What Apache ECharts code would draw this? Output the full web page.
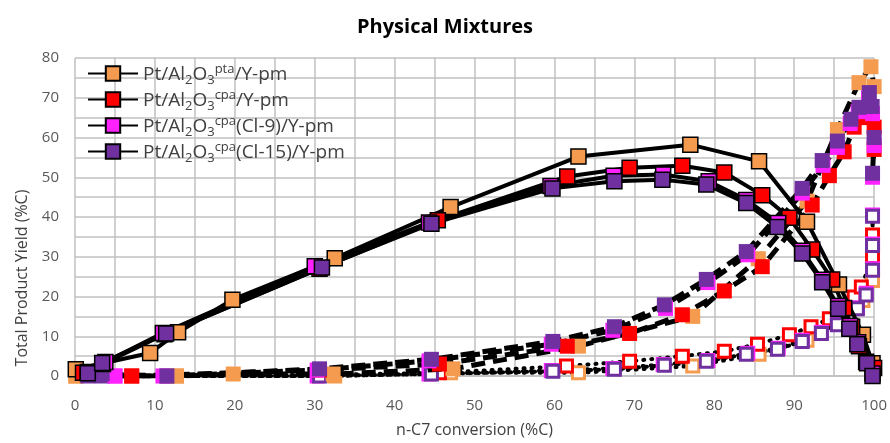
<!DOCTYPE html>
<html>
<head>
<meta charset="utf-8">
<script src="https://cdn.jsdelivr.net/npm/echarts@6/dist/echarts.min.js"></script>
<style>
  html, body { margin: 0; padding: 0; background: #fff; }
  #chart { width: 890px; height: 443px; }
</style>
</head>
<body>
<div id="chart"></div>
<script>
// total product yield (solid lines, filled squares)
const ptaTotal = [[0.1, 1.7], [9.4, 5.8], [12.9, 11], [19.7, 19.2], [32.5, 29.6], [47, 42.5], [63, 55.2], [77, 58.2], [85.6, 54], [91.6, 38.8], [95.6, 23], [98.6, 10.4], [99.8, 3.2]];
const cpaTotal = [[1, 0.8], [3.5, 3], [11.2, 10.5], [30.6, 27], [45.4, 39.2], [61.6, 50.2], [69.4, 52.4], [76, 52.9], [81.25, 51.2], [86, 45.5], [89.4, 39.8], [92.25, 31.8], [94.75, 24.3], [96.25, 17.1], [97.25, 12.4], [98.1, 7.5], [100, 2]];
const cl9Total = [[1.6, 1], [3.8, 3.5], [11, 10.8], [30, 27.6], [44.3, 38.6], [59.5, 47.8], [67.4, 50.4], [73.6, 50.7], [79.3, 49], [84, 44.3], [88, 38.5], [91, 31.5], [93.5, 24.2], [95.5, 17.6], [97, 12.6], [98, 8.5], [99, 3.6], [99.8, 0.6]];
const cl15Total = [[1.6, 0.7], [3.4, 3.3], [11.4, 10.7], [30.9, 27.3], [44.6, 38.3], [59.75, 47.2], [67.5, 49], [73.5, 49.4], [79, 48.2], [84, 43.5], [87.9, 37.5], [91, 30.8], [93.5, 23.6], [95.5, 16.9], [96.9, 11.9], [97.9, 8], [99.1, 3.2], [99.8, 0]];

// dashed lines, filled squares
const ptaDash = [[0.1, 0], [12.7, 0], [19.8, 0.5], [32.3, 0.5], [47.3, 1.8], [63, 7.5], [77.3, 15], [85.5, 29.5], [91.6, 44], [95.4, 62], [98.1, 73.8], [99.6, 77.8], [100, 72.8]];
const cpaDash = [[7.1, 0], [30.6, 1.5], [45.6, 3], [61.6, 7.5], [69.4, 10.7], [76, 15.4], [81.25, 21.4], [86, 27.5], [92.25, 43], [94.4, 50.4], [96.25, 56.4], [97.5, 62.6], [98.5, 65], [100, 62.6], [100, 57]];
const cl9Dash = [[5, 0], [11, 0], [30.3, 1.5], [44.3, 3.8], [59.6, 8], [67.3, 11.5], [73.9, 17], [79.2, 23.5], [84.2, 30.5], [91, 46], [93.6, 53], [95.4, 57.5], [97, 63.5], [98, 66.5], [99.3, 70], [99.8, 66], [100, 58], [99.8, 50]];
const cl15Dash = [[1.6, 0], [3.4, 0.5], [11.5, 0], [30.6, 1.8], [44.6, 4.2], [59.8, 8.7], [67.5, 12.4], [73.75, 17.9], [79, 24.3], [84, 31.3], [91, 47.2], [93.5, 54.2], [95.4, 59.1], [97.1, 64.6], [98.1, 67.6], [99.4, 71.3], [99.75, 67.8], [100, 60], [99.8, 51]];

// dotted lines, hollow squares
const ptaDot = [[0.1, 0], [12.7, 0], [32.5, 0], [47, 0.8], [63, 0.8], [77.3, 2.5], [85.6, 5.5], [91.6, 9], [95.6, 13.5], [98.6, 19], [99.8, 24]];
const cpaDot = [[7.1, 0], [30.6, 0.3], [45.6, 0.8], [61.5, 2.5], [69.4, 3.7], [76, 5], [81.25, 6.2], [85.4, 8], [89.4, 10.4], [92.1, 12.4], [94.4, 14.4], [97.5, 19.9], [98.4, 22.4], [99.8, 30], [99.8, 35.5]];
const cl9Dot = [[5, 0], [30.3, 0], [44.3, 0.5], [59.6, 1.4], [67.3, 1.9], [73.6, 2.9], [79.2, 3.9], [84.2, 5.7], [88, 7], [91, 9], [93.4, 11], [95.4, 13.2], [97.9, 17.2], [99, 20.8], [99.8, 27], [99.8, 33.2], [99.8, 40.5]];
const cl15Dot = [[3.4, 0], [11.5, 0], [30.6, 0], [44.6, 0.5], [59.8, 1.2], [67.5, 1.7], [73.75, 2.7], [79, 3.7], [84, 5.5], [87.9, 6.7], [91, 8.7], [93.4, 10.7], [95.4, 12.9], [97.9, 16.9], [99, 20.4], [99.8, 26.6], [99.8, 32.8], [99.8, 40.2]];

const names = ['Pt/Al2O3pta/Y-pm', 'Pt/Al2O3cpa/Y-pm', 'Pt/Al2O3cpa(Cl-9)/Y-pm', 'Pt/Al2O3cpa(Cl-15)/Y-pm'];
const colors = ['#F59B4F', '#FF0000', '#FF22FF', '#7030A0'];
const totals = [ptaTotal, cpaTotal, cl9Total, cl15Total];
const dashes = [ptaDash, cpaDash, cl9Dash, cl15Dash];
const dots = [ptaDot, cpaDot, cl9Dot, cl15Dot];

const font = 'Open Sans';

const series = [];
for (let i = 0; i < 4; i++) {
    series.push({
        name: names[i] + '-dot',
        type: 'line',
        data: dots[i],
        symbol: 'rect',
        symbolSize: 12,
        lineStyle: { color: '#000', width: 4, type: [1, 7], cap: 'round' },
        itemStyle: { color: '#fff', borderColor: colors[i], borderWidth: 3 },
        z: 2
    });
}
for (let i = 0; i < 4; i++) {
    series.push({
        name: names[i] + '-dash',
        type: 'line',
        data: dashes[i],
        symbol: 'rect',
        symbolSize: 15,
        lineStyle: { color: '#000', width: 5, type: [14, 8] },
        itemStyle: { color: colors[i], borderColor: colors[i], borderWidth: 0 },
        z: 3
    });
}
for (let i = 0; i < 4; i++) {
    series.push({
        name: names[i],
        type: 'line',
        data: totals[i],
        symbol: 'rect',
        symbolSize: 15,
        lineStyle: { color: '#000', width: 4 },
        itemStyle: { color: colors[i], borderColor: '#000', borderWidth: 1.5 },
        z: 4
    });
}

const richName = (name) => {
    const m = name.match(/^Pt\/Al2O3(pta|cpa)(.*)$/);
    return '{n|Pt/Al}{sub|2}{n|O}{sub|3}{sup|' + m[1] + '}{n|' + m[2] + '}';
};

const chart = echarts.init(document.getElementById('chart'));
chart.setOption({
    animation: false,
    title: {
        text: 'Physical Mixtures',
        left: 'center',
        top: 12,
        textStyle: { fontFamily: font, fontSize: 20, fontWeight: 'bold', color: '#000' }
    },
    grid: { left: 75, right: 15, top: 58, bottom: 63 },
    legend: {
        data: names,
        orient: 'vertical',
        left: 82,
        top: 58,
        itemWidth: 50,
        itemHeight: 18,
        itemGap: 2,
        formatter: richName,
        textStyle: {
            fontFamily: font,
            rich: {
                n: { fontFamily: font, fontSize: 19, color: '#404040', lineHeight: 21, verticalAlign: 'bottom' },
                sub: { fontFamily: font, fontSize: 13, color: '#404040', lineHeight: 21, verticalAlign: 'bottom', padding: [0, 0, -3, 0] },
                sup: { fontFamily: font, fontSize: 13, color: '#404040', lineHeight: 21, verticalAlign: 'top' }
            }
        }
    },
    graphic: [{
        type: 'text',
        x: 22,
        y: 278,
        rotation: Math.PI / 2,
        style: {
            text: 'Total Product Yield (%C)',
            fontFamily: font,
            fontSize: 16,
            fill: '#404040',
            align: 'center',
            verticalAlign: 'middle'
        }
    }],
    xAxis: {
        type: 'value',
        min: 0,
        max: 100,
        interval: 5,
        name: 'n-C7 conversion (%C)',
        nameLocation: 'middle',
        nameGap: 46,
        nameTextStyle: { fontFamily: font, fontSize: 16, color: '#404040' },
        axisLine: { lineStyle: { color: '#bfbfbf', width: 1.5 } },
        axisTick: { show: false },
        axisLabel: {
            fontFamily: font, fontSize: 15, color: '#595959', margin: 22,
            formatter: (v) => (v % 10 === 0 ? String(v) : '')
        },
        splitLine: { show: true, lineStyle: { color: '#c0c0c0', width: 1.5 } }
    },
    yAxis: {
        type: 'value',
        min: 0,
        max: 80,
        interval: 5,
        axisLine: { show: false },
        axisTick: { show: false },
        axisLabel: {
            fontFamily: font, fontSize: 15, color: '#595959', margin: 16,
            formatter: (v) => (v % 10 === 0 ? String(v) : '')
        },
        splitLine: { show: true, lineStyle: { color: '#c0c0c0', width: 1.5 } }
    },
    series: series
});
</script>
</body>
</html>
